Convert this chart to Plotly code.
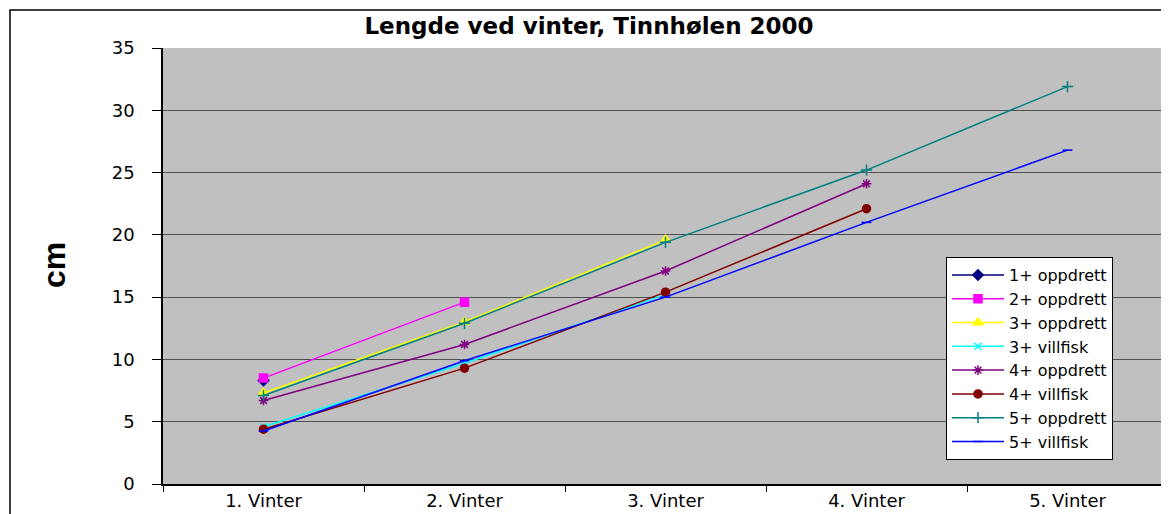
import plotly.graph_objects as go

categories = ["1. Vinter", "2. Vinter", "3. Vinter", "4. Vinter", "5. Vinter"]

v_1_oppdrett = [8.3]
v_2_oppdrett = [8.5, 14.6]
v_3_oppdrett = [7.3, 13.0, 19.6]
v_3_villfisk = [4.6, 9.7, 15.2]
v_4_oppdrett = [6.7, 11.2, 17.1, 24.1]
v_4_villfisk = [4.4, 9.3, 15.4, 22.1]
v_5_oppdrett = [7.1, 12.9, 19.4, 25.2, 31.9]
v_5_villfisk = [4.25, 9.9, 15.0, 21.0, 26.8]

series = [
    ("1+ oppdrett", v_1_oppdrett, "#000080", "diamond", 8),
    ("2+ oppdrett", v_2_oppdrett, "#FF00FF", "square", 8),
    ("3+ oppdrett", v_3_oppdrett, "#FFFF00", "triangle-up", 9),
    ("3+ villfisk", v_3_villfisk, "#00FFFF", "x-thin-open", 7),
    ("4+ oppdrett", v_4_oppdrett, "#800080", "asterisk-open", 8),
    ("4+ villfisk", v_4_villfisk, "#800000", "circle", 8),
    ("5+ oppdrett", v_5_oppdrett, "#008080", "cross-thin-open", 8),
    ("5+ villfisk", v_5_villfisk, "#0000FF", "line-ew-open", 7),
]

fig = go.Figure()
for name, vals, color, sym, size in series:
    fig.add_trace(go.Scatter(
        x=categories[:len(vals)], y=vals, name=name, mode="lines+markers",
        line=dict(color=color, width=1.5),
        marker=dict(symbol=sym, size=size, color=color,
                    line=dict(color=color, width=1.5)),
    ))

OFF = 8  # page body margin
W, H = 1169 - OFF, 514 - OFF
L, T, R, B = 163, 48, 1168, 484  # screen coords of plot area
pw, ph = R - L, B - T

def px(x):
    return (x - L) / pw

def py(y):
    return (B - y) / ph

FONT = "DejaVu Sans, Liberation Sans, Arial, sans-serif"

fig.update_layout(
    width=W, height=H,
    margin=dict(l=L - OFF, r=W - (R - OFF), t=T - OFF, b=H - (B - OFF), pad=0),
    paper_bgcolor="white",
    plot_bgcolor="#C0C0C0",
    font=dict(family=FONT, size=18, color="black"),
    title=dict(text="<b>Lengde ved vinter, Tinnhølen 2000</b>",
               x=(589 - OFF) / W, xref="container", xanchor="center",
               y=1 - (26 - OFF) / H, yref="container", yanchor="middle",
               font=dict(size=23, color="black", family=FONT)),
    showlegend=True,
    legend=dict(x=px(946), y=py(257), xanchor="left", yanchor="top",
                bgcolor="white", bordercolor="black", borderwidth=1,
                font=dict(size=16, family=FONT), tracegroupgap=0,
                itemwidth=52),
    xaxis=dict(categoryorder="array", categoryarray=categories,
               range=[-0.5, 4.5], tickson="boundaries",
               ticks="outside", ticklen=6, tickcolor="black",
               showline=True, linecolor="black", linewidth=1.5,
               showgrid=False, zeroline=False,
               tickfont=dict(size=18)),
    yaxis=dict(range=[0, 35], dtick=5, ticks="outside", ticklen=9,
               tickcolor="black", showline=True, linecolor="black",
               linewidth=1.5, showgrid=True, gridcolor="#505050",
               gridwidth=1.2, zeroline=False, tickfont=dict(size=18),
               ticklabelstandoff=14),
    shapes=[dict(type="rect", xref="paper", yref="paper",
                 x0=px(10), x1=px(1175), y0=py(520), y1=py(10),
                 line=dict(color="black", width=1.5), layer="below")],
    annotations=[dict(text="<b>cm</b>", xref="paper", yref="paper",
                      x=px(54), y=py(265), textangle=-90, showarrow=False,
                      xanchor="center", yanchor="middle",
                      font=dict(size=32, color="black",
                                family="Liberation Sans, Arial, sans-serif"))],
)

fig.write_html("out.html")
